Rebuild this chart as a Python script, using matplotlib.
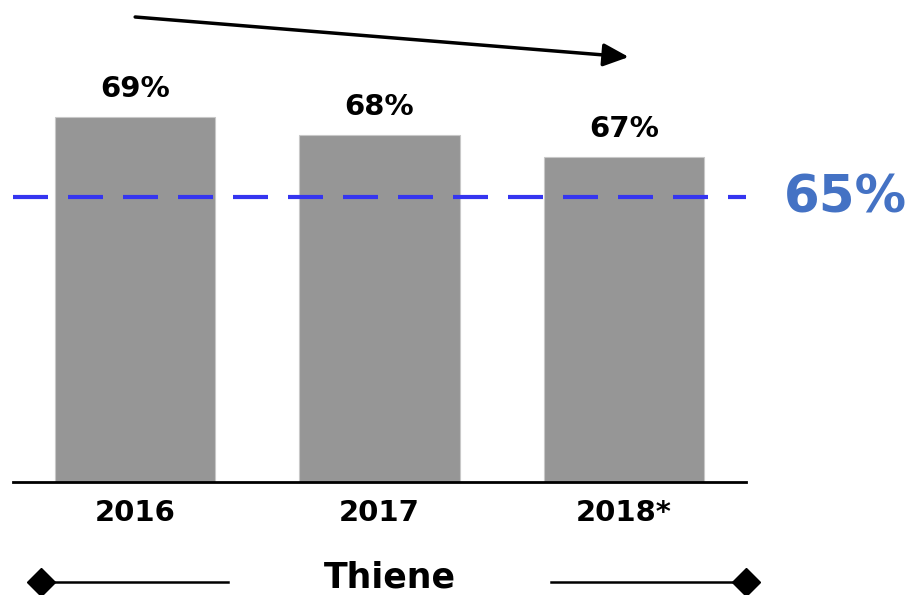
import matplotlib
matplotlib.use("Agg")
import matplotlib.pyplot as plt
from matplotlib.lines import Line2D

categories = ["2016", "2017", "2018*"]
values = [69.0, 68.1, 67.0]
value_labels = ["69%", "68%", "67%"]
target = 65.0
target_label = "65%"
group_label = "Thiene"

plt.rcParams["lines.scale_dashes"] = False

W, H = 916, 595
fig = plt.figure(figsize=(W / 100, H / 100), dpi=100)
ax = fig.add_axes([13 / W, (H - 482) / H, 733 / W, 482 / H])

ymin, ymax = 50.75, 74.85
x = list(range(len(categories)))
ax.bar(x, values, width=0.656, color="#969696", edgecolor="#c8c8c8", linewidth=0.8, zorder=2)
ax.set_xlim(-0.5, 2.5)
ax.set_ylim(ymin, ymax)

for xi, v, lab in zip(x, values, value_labels):
    ax.annotate(lab, (xi, v), xytext=(0, 14.4), textcoords="offset points",
                ha="center", va="baseline", fontsize=21, fontweight="bold",
                family="DejaVu Sans", color="black")

# dash 35px on, 20px off (in points at 100 dpi)
ax.axhline(target, color="#3535f0", linewidth=3.0, linestyle=(0, (25.2, 14.4)), zorder=3)
ax.text(2.656, 64.2, target_label, ha="left", va="baseline", fontsize=37,
        fontweight="bold", color="#4472c4", clip_on=False)

for s in ["top", "right", "left"]:
    ax.spines[s].set_visible(False)
ax.spines["bottom"].set_linewidth(2)
ax.spines["bottom"].set_color("black")
ax.set_yticks([])
ax.set_xticks(x)
ax.set_xticklabels(categories, fontsize=21, fontweight="bold")
ax.tick_params(axis="x", length=0, pad=12)

# trend arrow
ax.annotate("", xy=(2.02, 72.0), xytext=(0.0, 74.0),
            arrowprops=dict(arrowstyle="-|>,head_length=1.55,head_width=0.7",
                            color="black", lw=2.5, shrinkA=0, shrinkB=0),
            annotation_clip=False)

# bottom group label with bracket lines
ybr = 74.85 - 582 / 20
ax.add_line(Line2D([-0.385, 0.381], [ybr, ybr], color="black", lw=1.8, clip_on=False))
ax.add_line(Line2D([1.701, 2.5], [ybr, ybr], color="black", lw=1.8, clip_on=False))
ax.plot([-0.385], [ybr], marker="D", markersize=14, color="black", clip_on=False)
ax.plot([2.5], [ybr], marker="D", markersize=14, color="black", clip_on=False)
ax.text(1.041, 74.85 - 594 / 20, group_label, ha="center", va="bottom",
        fontsize=25, fontweight="bold", clip_on=False)

fig.savefig("out.png", dpi=100)
